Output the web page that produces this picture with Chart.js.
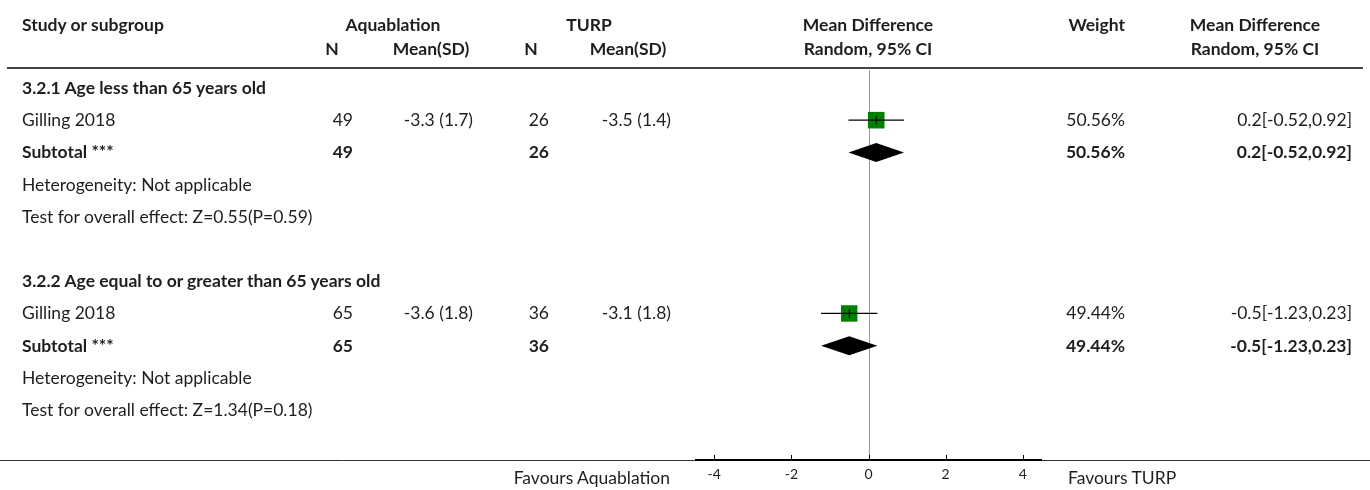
<!DOCTYPE html>
<html>
<head>
<meta charset="utf-8">
<script src="https://cdn.jsdelivr.net/npm/chart.js@4.4.1/dist/chart.umd.min.js"></script>
<style>
body { margin: 0; background: #fff; }
#wrap { position: relative; width: 1370px; height: 490px; font-family: Lato, sans-serif; font-size: 17.5px; color: #1e1e1e; }
#wrap canvas { position: absolute; left: 0; top: 0; }
.t { position: absolute; white-space: nowrap; line-height: 1; }
.b { font-weight: bold; }
</style>
</head>
<body>
<div id="wrap"><canvas id="forest"></canvas></div>
<script>
// table rows, top to bottom; the row index is the y value on the plot
const rowLabels = [
	'3.2.1 Age less than 65 years old',
	'Gilling 2018',
	'Subtotal ***',
	'Heterogeneity: Not applicable',
	'Test for overall effect: Z=0.55(P=0.59)',
	'',
	'3.2.2 Age equal to or greater than 65 years old',
	'Gilling 2018',
	'Subtotal ***',
	'Heterogeneity: Not applicable',
	'Test for overall effect: Z=1.34(P=0.18)'
]
const boldRows = [0, 2, 6, 8]
const aquaN = ['', '49', '49', '', '', '', '', '65', '65', '', '']
const aquaMean = ['', '-3.3 (1.7)', '', '', '', '', '', '-3.6 (1.8)', '', '', '']
const turpN = ['', '26', '26', '', '', '', '', '36', '36', '', '']
const turpMean = ['', '-3.5 (1.4)', '', '', '', '', '', '-3.1 (1.8)', '', '', '']
const weightText = ['', '50.56%', '50.56%', '', '', '', '', '49.44%', '49.44%', '', '']
const ciText = ['', '0.2[-0.52,0.92]', '0.2[-0.52,0.92]', '', '', '', '', '-0.5[-1.23,0.23]', '-0.5[-1.23,0.23]', '', '']

// single studies
const studyRows = [1, 7]
const studyMD = [0.2, -0.5]
const studyLo = [-0.52, -1.23]
const studyHi = [0.92, 0.23]
const studyWeight = [50.56, 49.44]

// subtotals (diamonds)
const totalRows = [2, 8]
const totalMD = [0.2, -0.5]
const totalLo = [-0.52, -1.23]
const totalHi = [0.92, 0.23]

const tickVals = [-4, -2, 0, 2, 4]

const wrap = document.getElementById('wrap')

function addText(txt, x, y, align, bold) {
	if (!txt) return
	const d = document.createElement('div')
	d.className = 't' + (bold ? ' b' : '')
	d.textContent = txt
	d.style.top = y + 'px'
	if (align === 'right') {
		d.style.right = (1370 - x) + 'px'
		d.style.transform = 'translateY(-50%)'
	} else if (align === 'center') {
		d.style.left = x + 'px'
		d.style.transform = 'translate(-50%,-50%)'
	} else {
		d.style.left = x + 'px'
		d.style.transform = 'translateY(-50%)'
	}
	wrap.appendChild(d)
}

const forestDecor = {
	id: 'forestDecor',
	beforeDatasetsDraw(chart) {
		const { ctx, chartArea: a, scales: { x, y } } = chart
		ctx.save()
		// line of no effect
		const x0 = Math.round(x.getPixelForValue(0)) + 0.5
		ctx.strokeStyle = '#999'
		ctx.lineWidth = 1
		ctx.beginPath()
		ctx.moveTo(x0, a.top + 2)
		ctx.lineTo(x0, a.bottom)
		ctx.stroke()
		// subtotal diamonds
		ctx.fillStyle = '#000'
		totalRows.forEach((r, i) => {
			const py = y.getPixelForValue(r)
			ctx.beginPath()
			ctx.moveTo(x.getPixelForValue(totalLo[i]), py)
			ctx.lineTo(x.getPixelForValue(totalMD[i]), py - 9.5)
			ctx.lineTo(x.getPixelForValue(totalHi[i]), py)
			ctx.lineTo(x.getPixelForValue(totalMD[i]), py + 9.5)
			ctx.closePath()
			ctx.fill()
		})
		ctx.restore()
	},
	afterDraw(chart) {
		const { ctx, chartArea: a, scales: { x } } = chart
		ctx.save()
		// header rule
		ctx.strokeStyle = '#444'
		ctx.lineWidth = 2
		ctx.beginPath()
		ctx.moveTo(7, 68)
		ctx.lineTo(1363, 68)
		ctx.stroke()
		// bottom rule
		ctx.strokeStyle = '#333'
		ctx.lineWidth = 1
		ctx.beginPath()
		ctx.moveTo(0, a.bottom + 0.5)
		ctx.lineTo(1370, a.bottom + 0.5)
		ctx.stroke()
		// axis segment with tick marks pointing up
		ctx.strokeStyle = '#000'
		ctx.lineWidth = 2
		ctx.beginPath()
		ctx.moveTo(a.left, a.bottom)
		ctx.lineTo(a.right, a.bottom)
		ctx.stroke()
		ctx.lineWidth = 1
		tickVals.forEach(v => {
			const px = Math.round(x.getPixelForValue(v)) + 0.5
			ctx.beginPath()
			ctx.moveTo(px, a.bottom)
			ctx.lineTo(px, a.bottom - 5)
			ctx.stroke()
		})
		ctx.restore()
	}
}

const squareSide = 16.5
var ctxF = document.getElementById('forest').getContext('2d')
const chart = new Chart(ctxF, {
	type: 'scatter',
	data: {
		datasets: [
			{
				label: 'studies',
				data: studyRows.map((r, i) => ({ x: studyMD[i], y: r })),
				pointStyle: 'rect',
				pointRadius: studyWeight.map(w => squareSide * Math.sqrt(w / 50) / Math.SQRT2),
				backgroundColor: '#008000',
				borderWidth: 0,
				order: 3
			},
			...studyRows.map((r, i) => ({
				label: 'ci' + i,
				type: 'line',
				data: [{ x: studyLo[i], y: r }, { x: studyHi[i], y: r }],
				borderColor: '#000',
				borderWidth: 1.2,
				pointRadius: 0,
				order: 2
			})),
			{
				label: 'estimate',
				data: studyRows.map((r, i) => ({ x: studyMD[i], y: r })),
				pointStyle: 'line',
				rotation: 90,
				pointRadius: 4.5,
				borderColor: '#000',
				borderWidth: 1,
				order: 1
			}
		]
	},
	options: {
		responsive: true,
		maintainAspectRatio: false,
		animation: false,
		events: [],
		layout: { padding: { left: 695, right: 328, top: 68, bottom: 0 } },
		plugins: { legend: { display: false }, tooltip: { enabled: false } },
		scales: {
			x: {
				type: 'linear',
				min: -4.5,
				max: 4.5,
				afterBuildTicks: s => { s.ticks = tickVals.map(v => ({ value: v })) },
				afterFit: s => { s.height = 30 },
				grid: { display: false, drawTicks: false },
				border: { display: false },
				ticks: { padding: 6, color: '#1e1e1e', font: { family: 'Lato', size: 14 } }
			},
			y: {
				type: 'linear',
				display: false,
				reverse: true,
				min: -0.62,
				max: 11.55
			}
		}
	},
	plugins: [forestDecor]
})

// header
addText('Study or subgroup', 22, 25, 'left', true)
addText('Aquablation', 393, 25, 'center', true)
addText('TURP', 589, 25, 'center', true)
addText('Mean Difference', 868, 25, 'center', true)
addText('Weight', 1125, 25, 'right', true)
addText('Mean Difference', 1255, 25, 'center', true)
addText('N', 332, 49, 'center', true)
addText('Mean(SD)', 431, 49, 'center', true)
addText('N', 531, 49, 'center', true)
addText('Mean(SD)', 628, 49, 'center', true)
addText('Random, 95% CI', 868, 49, 'center', true)
addText('Random, 95% CI', 1255, 49, 'center', true)

// body rows, placed on the chart's own y scale
const yS = chart.scales.y
rowLabels.forEach((lab, i) => {
	const py = yS.getPixelForValue(i)
	const bold = boldRows.includes(i)
	addText(lab, 22, py, 'left', bold)
	addText(aquaN[i], 353, py, 'right', bold)
	addText(aquaMean[i], 473, py, 'right', bold)
	addText(turpN[i], 549, py, 'right', bold)
	addText(turpMean[i], 671, py, 'right', bold)
	addText(weightText[i], 1125, py, 'right', bold)
	addText(ciText[i], 1352, py, 'right', bold)
})

// axis captions
const capY = chart.chartArea.bottom + 18
addText('Favours Aquablation', 670, capY, 'right', false)
addText('Favours TURP', 1068, capY, 'left', false)
</script>
</body>
</html>
